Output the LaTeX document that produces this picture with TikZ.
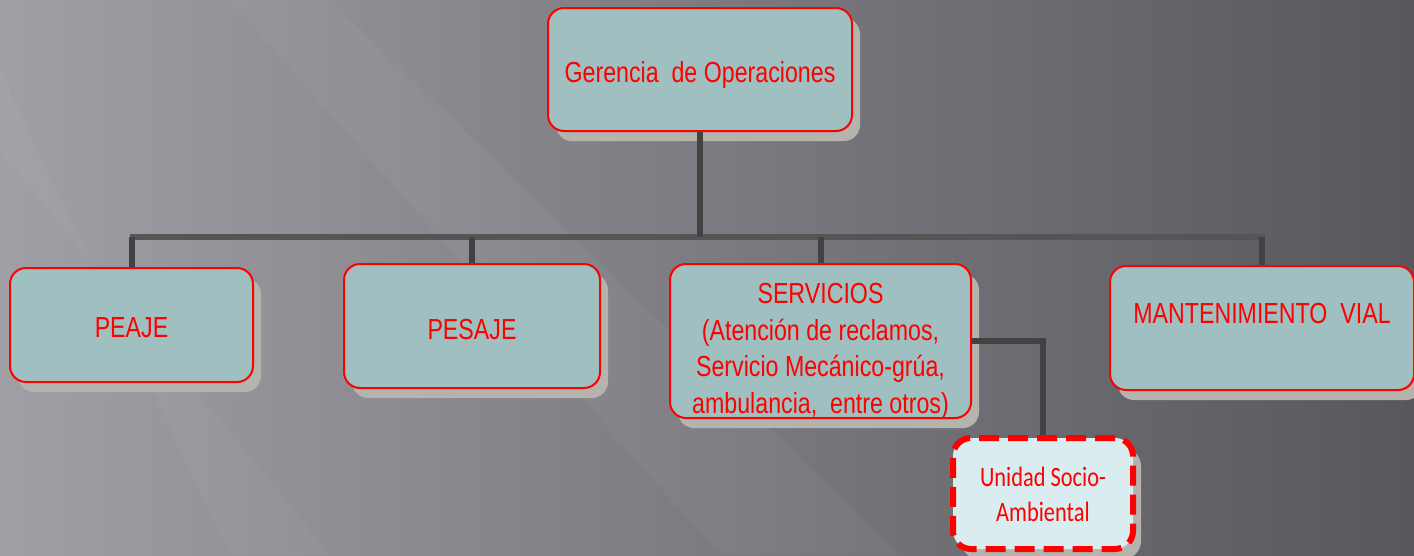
\documentclass[tikz,border=0pt]{standalone}
\usepackage{fontspec}
\setmainfont{Liberation Sans}[FakeStretch=0.8]
\newfontfamily\unifont{Carlito}[FakeStretch=0.8]
\usepackage{tikz}
\usetikzlibrary{%
  shadows,
  positioning
}

\definecolor{bgleft}{HTML}{A19FA6}
\definecolor{bgright}{HTML}{58575C}
\definecolor{boxfill}{HTML}{A0BFC0}
\definecolor{unifill}{HTML}{D9ECEF}
\definecolor{shadowgray}{HTML}{B4B3AD}
\definecolor{linkgray}{HTML}{424242}
\definecolor{busgray}{HTML}{555555}

% push the text of a box down by #1
\newcommand{\pushdown}[2]{\raisebox{0pt}[\dimexpr\height+#1\relax][\dimexpr\depth-#1\relax]{#2}}

\tikzset{
  orgbox/.style = {draw = red, line width = 2pt, fill = boxfill,
                   rounded corners = 16pt, align = center, text = red,
                   font = \fontsize{29}{36.5}\selectfont,
                   drop shadow = {shadow xshift = 8pt, shadow yshift = -10pt,
                                  fill = shadowgray, opacity = 1}},
  unibox/.style = {orgbox, fill = unifill, line width = 6pt,
                   dash pattern = on 20pt off 9pt, rounded corners = 18pt,
                   font = \unifont\fontsize{28}{35}\selectfont},
  link/.style   = {draw = linkgray, line width = 6pt},
  bus/.style    = {draw = busgray, line width = 6pt}
}

\begin{document}
\begin{tikzpicture}[x = 1pt, y = -1pt]
    % background
    \shade [left color = bgleft, right color = bgright] (0,0) rectangle (1414,555);
    \fill [white, opacity = .035] (230,0) -- (330,0) -- (900,555) -- (720,555) -- cycle;
    \fill [white, opacity = .03] (0,70) -- (0,150) -- (330,555) -- (230,555) -- cycle;
    \useasboundingbox (0,0) rectangle (1414,555);

    % boxes
    \node [orgbox, minimum width = 304pt, minimum height = 123pt] (gerencia)  at (700,69.5)
          {\pushdown{5pt}{Gerencia~~de Operaciones}};
    \node [orgbox, minimum width = 243pt, minimum height = 114pt] (peaje)     at (131.5,325)
          {\pushdown{5pt}{PEAJE}};
    \node [orgbox, minimum width = 256pt, minimum height = 124pt] (pesaje)    at (472,326)
          {\pushdown{6pt}{PESAJE}};
    \node [orgbox, minimum width = 301pt, minimum height = 154pt, inner ysep = 0pt] (servicios) at (820.5,341)
          {\pushdown{10pt}{\begin{tabular}{@{}c@{}}SERVICIOS\\(Atención de reclamos,\\Servicio Mecánico-grúa,\\ambulancia,~~entre otros)\end{tabular}}};
    \node [orgbox, minimum width = 304pt, minimum height = 124pt, text depth = 30pt] (vial) at (1262,328)
          {MANTENIMIENTO~~VIAL};
    \node [unibox, minimum width = 180pt, minimum height = 111pt] (unidad) at (1043,493.5)
          {\pushdown{3pt}{\begin{tabular}{@{}c@{}}Unidad Socio-\\Ambiental\end{tabular}}};

    % connectors
    \coordinate (busL) at (130,237);
    \coordinate (busR) at (1265,237);
    \draw [bus]  (busL) -- (busR);
    \draw [link] (gerencia.south)  -- (gerencia.south |- busL);
    \draw [link] (peaje.north)     -- (peaje.north |- busL);
    \draw [link] (pesaje.north)    -- (pesaje.north |- busL);
    \draw [link] (servicios.north) -- (servicios.north |- busL);
    \draw [link] (vial.north)      -- (vial.north |- busL);
    \draw [link] (servicios.east)  -| (unidad.north);
\end{tikzpicture}
\end{document}
